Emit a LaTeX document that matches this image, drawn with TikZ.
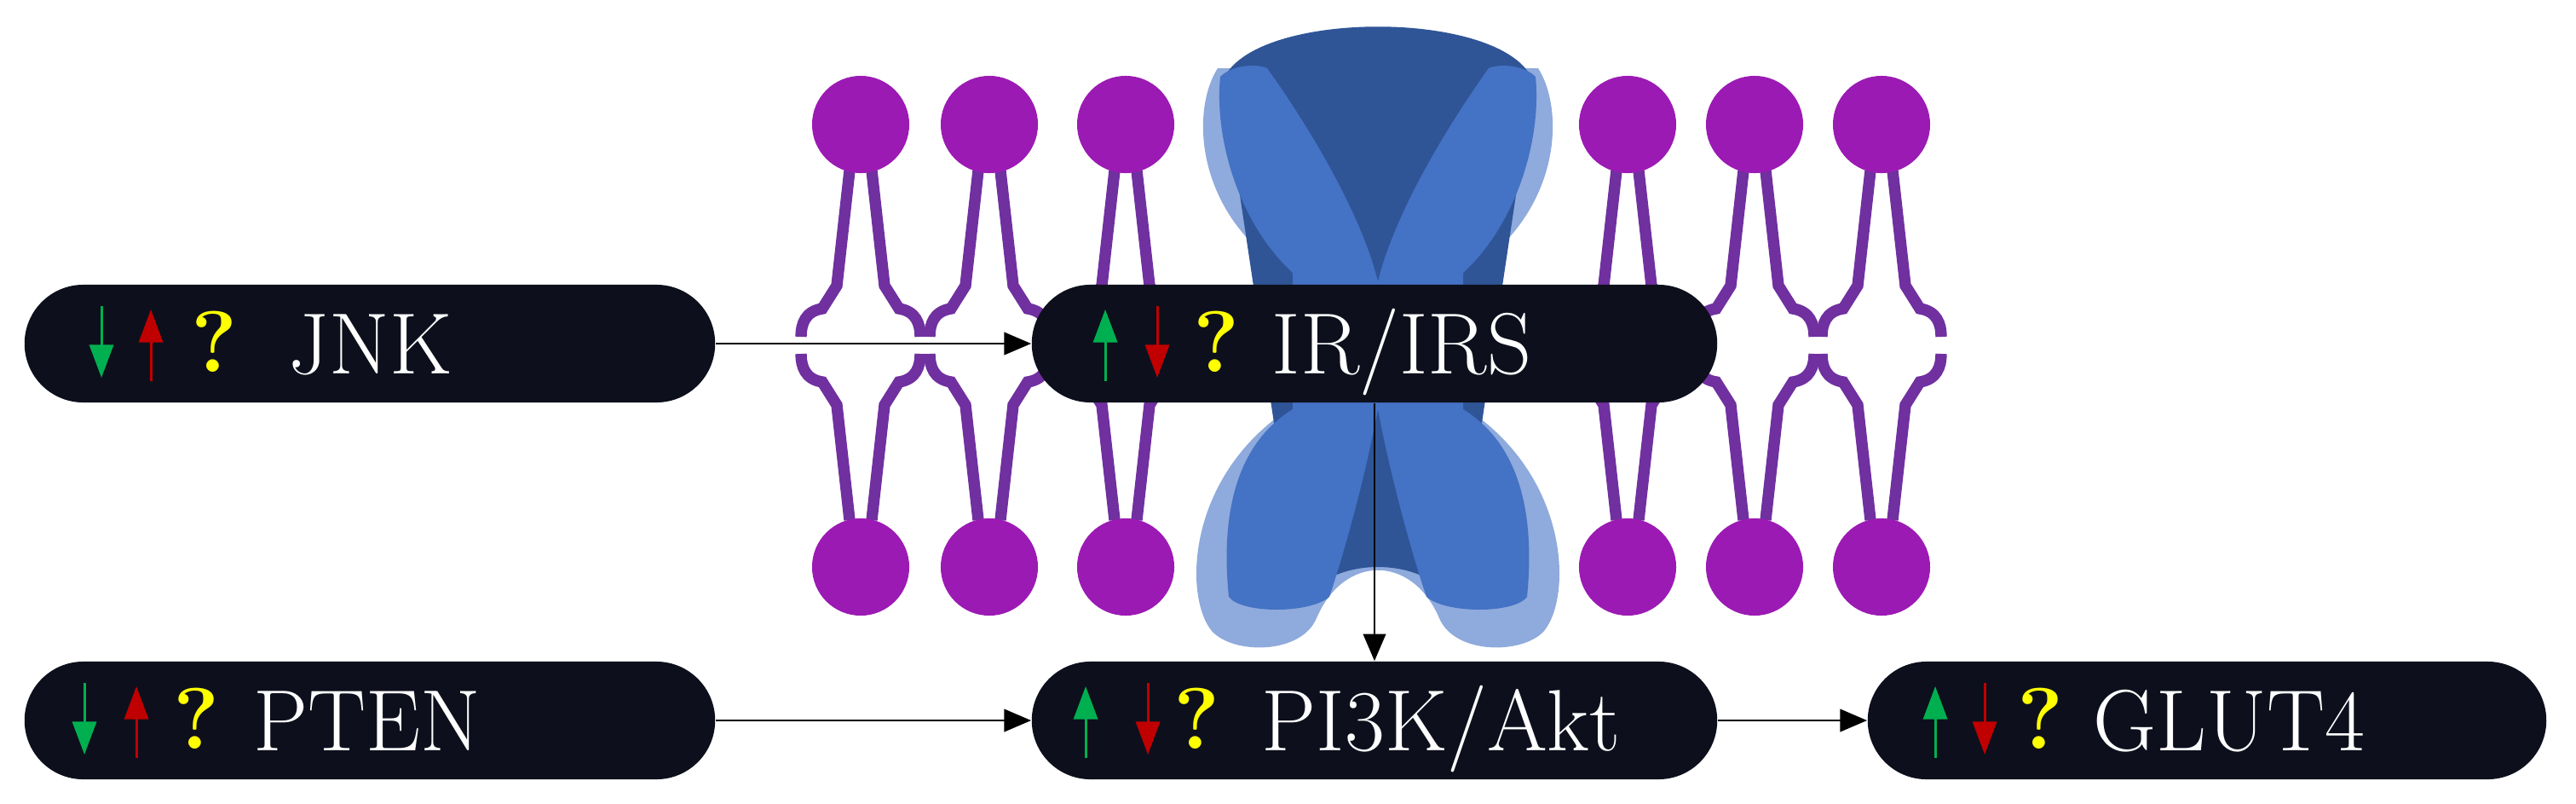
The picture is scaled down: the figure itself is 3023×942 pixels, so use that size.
\documentclass[tikz,border=0pt]{standalone}
\usetikzlibrary{arrows.meta}
\definecolor{boxc}{HTML}{0D101C}
\definecolor{headc}{HTML}{9C1AB4}
\definecolor{tailc}{HTML}{7030A0}
\definecolor{lblue}{HTML}{8FAADC}
\definecolor{mblue}{HTML}{4472C4}
\definecolor{dblue}{HTML}{2F5597}
\definecolor{gcol}{HTML}{00B050}
\definecolor{rcol}{HTML}{C00000}
\definecolor{ycol}{HTML}{FFFF00}
\tikzset{
  box/.style={fill=boxc, rounded corners=0.69cm, minimum height=1.38cm, inner sep=0pt},
  lab/.style={text=white, font=\fontsize{29}{31}\selectfont, inner sep=0pt},
  qm/.style={text=ycol, font=\fontsize{29}{31}\selectfont\bfseries, inner sep=0pt},
  sig/.style={line width=0.85pt, -{Triangle[length=11pt,width=8pt]}},
  conn/.style={line width=0.75pt, -{Triangle[length=9pt,width=7.5pt]}},
  tail/.style={tailc, line width=3.8pt},
}
\newcommand\sigdown[6]{%
  \draw[sig,gcol] ([shift={(#2,-44)}]#1.west) -- ([shift={(#2,40)}]#1.west);
  \draw[sig,rcol] ([shift={(#3,44)}]#1.west) -- ([shift={(#3,-40)}]#1.west);
  \node[qm,anchor=base] (#1q) at ([shift={(#4,33)}]#1.west) {?};
  \node[lab,anchor=base west] (#1t) at ([shift={(#5,35)}]#1.west) {#6};}
\newcommand\sigup[6]{%
  \draw[sig,gcol] ([shift={(#2,44)}]#1.west) -- ([shift={(#2,-40)}]#1.west);
  \draw[sig,rcol] ([shift={(#3,-44)}]#1.west) -- ([shift={(#3,40)}]#1.west);
  \node[qm,anchor=base] (#1q) at ([shift={(#4,33)}]#1.west) {?};
  \node[lab,anchor=base west] (#1t) at ([shift={(#5,35)}]#1.west) {#6};}
\begin{document}
\begin{tikzpicture}[x=0.01cm,y=-0.01cm]
\path[use as bounding box, fill=white] (0,0) rectangle (3023,942);
% lipids
\foreach \lx in {1010,1161,1321,1910,2059,2208}{
  \foreach \s in {1,-1}{
    \begin{scope}[shift={(\lx,0)}, xscale=\s]
      \draw[tail] (13,200) -- (28,335) -- (45,362) .. controls (65,365) and (70,380) .. (70,395);
      \draw[tail] (13,610) -- (28,475) -- (45,448) .. controls (65,445) and (70,430) .. (70,415);
    \end{scope}}
  \fill[headc] (\lx,146) circle[radius=0.57cm];
  \fill[headc] (\lx,665) circle[radius=0.57cm];
}
% receptor
\begin{scope}[shift={(1617,0)}]
  \fill[lblue] (-188,80) .. controls (-220,130) and (-215,250) .. (-105,320) -- (-105,480)
    .. controls (-225,560) and (-228,700) .. (-195,740) .. controls (-170,768) and (-90,768) .. (-72,725)
    .. controls (-40,650) and (40,650) .. (72,725) .. controls (90,768) and (170,768) .. (195,740)
    .. controls (228,700) and (225,560) .. (105,480) -- (105,320)
    .. controls (215,250) and (220,130) .. (188,80) -- cycle;
  \fill[dblue] (-182,95) .. controls (-150,10) and (150,10) .. (182,95) -- (90,710)
    .. controls (60,650) and (-60,650) .. (-90,710) -- cycle;
  \foreach \s in {1,-1}{
    \fill[mblue, xscale=\s] (-185,90) .. controls (-170,75) and (-140,75) .. (-130,80)
      .. controls (-80,150) and (-20,250) .. (0,330) -- (0,480)
      .. controls (-15,560) and (-40,650) .. (-57,700) .. controls (-80,720) and (-160,720) .. (-175,700)
      .. controls (-185,600) and (-165,520) .. (-100,480) -- (-100,320)
      .. controls (-165,260) and (-192,160) .. (-185,90) -- cycle;}
\end{scope}
% boxes
\node[box, minimum width=8.1cm] (jnk) at (434,403) {};
\node[box, minimum width=8.04cm] (ir) at (1613,403) {};
\node[box, minimum width=8.1cm] (pten) at (434,845) {};
\node[box, minimum width=8.04cm] (pi3k) at (1613,845) {};
\node[box, minimum width=7.96cm] (glut) at (2590,845) {};
\sigdown{jnk}{91}{149}{224}{310}{JNK}
\sigup{ir}{87}{148}{217}{282}{IR/IRS}
\sigdown{pten}{71}{132}{203}{269}{PTEN}
\sigup{pi3k}{64}{137}{194}{270}{PI3K/Akt}
\sigup{glut}{80}{138}{203}{265}{GLUT4}
% connectors
\draw[conn] (jnk) -- (ir);
\draw[conn] (ir) -- (pi3k);
\draw[conn] (pten) -- (pi3k);
\draw[conn] (pi3k) -- (glut);
\end{tikzpicture}
\end{document}
